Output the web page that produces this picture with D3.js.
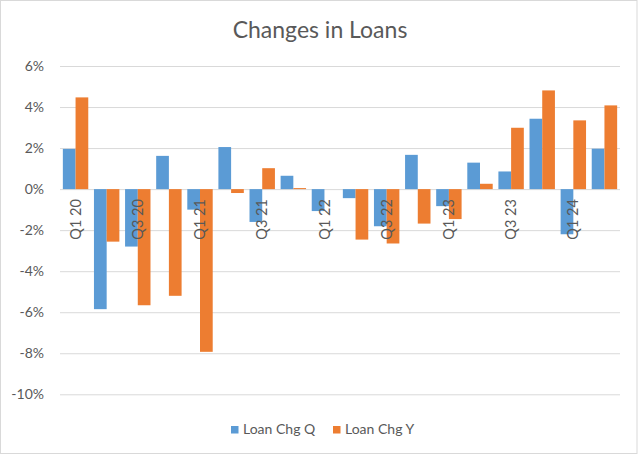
<!DOCTYPE html>
<html>
<head>
<meta charset="utf-8">
<script src="https://cdn.jsdelivr.net/npm/d3@7"></script>
<style>
  html, body { margin: 0; padding: 0; background: #fff; }
  svg { display: block; font-family: Lato, "Open Sans", sans-serif; }
</style>
</head>
<body>
<svg id="chart" width="640" height="455"></svg>
<script>
const categories = ["Q1 20","Q2 20","Q3 20","Q4 20","Q1 21","Q2 21","Q3 21","Q4 21","Q1 22","Q2 22","Q3 22","Q4 22","Q1 23","Q2 23","Q3 23","Q4 23","Q1 24","Q2 24"];
const loanChgQ = [1.96,-5.85,-2.8,1.62,-1.0,2.05,-1.6,0.65,-1.07,-0.44,-1.81,1.67,-0.83,1.29,0.86,3.43,-2.2,1.97];
const loanChgY = [4.47,-2.56,-5.66,-5.2,-7.93,-0.19,1.02,0.05,0.0,-2.46,-2.65,-1.68,-1.46,0.26,2.99,4.81,3.35,4.08];
const seriesNames = ["Loan Chg Q","Loan Chg Y"];
const seriesColors = ["#5B9BD5","#ED7D31"];
const yTicks = [-10,-8,-6,-4,-2,0,2,4,6];
const title = "Changes in Loans";

const svg = d3.select("#chart");
const W = 640, H = 455;
const textColor = "#595959";
const gridColor = "#d9d9d9";

// border
svg.append("rect").attr("x",0.5).attr("y",0.5).attr("width",W-3.5).attr("height",H-2)
  .attr("fill","#fff").attr("stroke","#d9d9d9").attr("stroke-width",1);

const plot = {left:60, right:620, top:66, bottom:394.3};

const y = d3.scaleLinear().domain([-10,6]).range([plot.bottom, plot.top]);
const x0 = d3.scaleBand().domain(categories).range([plot.left, plot.right]).padding(0);
const groupW = x0.bandwidth()*0.817;
const x1 = d3.scaleBand().domain(seriesNames).range([0, groupW]).padding(0);

// title
svg.append("text").attr("x", W/2).attr("y", 37.5).attr("text-anchor","middle")
  .attr("fill", textColor).style("font-size","23px").text(title);

// gridlines
const yAxis = d3.axisLeft(y).tickValues(yTicks).tickSize(-(plot.right-plot.left)).tickFormat(d => d + "%");
const gy = svg.append("g").attr("transform",`translate(${plot.left},0)`).call(yAxis);
gy.select(".domain").remove();
gy.selectAll(".tick line").attr("stroke", gridColor).attr("stroke-width",1);
gy.selectAll(".tick text").attr("x",-16).attr("fill",textColor)
  .style("font-size","14px").style("font-family","Lato, 'Open Sans', sans-serif");

// bars
const data = categories.map((c,i) => ({cat:c, vals:[loanChgQ[i], loanChgY[i]]}));
const groups = svg.append("g").selectAll("g").data(data).join("g")
  .attr("transform", d => `translate(${x0(d.cat) + (x0.bandwidth()-groupW)/2},0)`);
groups.selectAll("rect").data(d => d.vals.map((v,j) => ({name:seriesNames[j], v, j})))
  .join("rect")
  .attr("x", d => x1(d.name))
  .attr("width", x1.bandwidth())
  .attr("y", d => y(Math.max(0,d.v)))
  .attr("height", d => Math.abs(y(d.v) - y(0)))
  .attr("fill", d => seriesColors[d.j]);

// x axis labels
const xAxis = d3.axisBottom(x0).tickValues(categories.filter((c,i) => i % 2 === 0)).tickSize(0);
const gx = svg.append("g").attr("transform",`translate(0,${y(0)})`).call(xAxis);
gx.select(".domain").remove();
gx.selectAll(".tick text")
  .attr("transform","rotate(-90)")
  .attr("x",-10).attr("y",0).attr("dy","0.35em")
  .attr("text-anchor","end")
  .attr("fill",textColor)
  .style("font-size","14.5px").style("font-family","Lato, 'Open Sans', sans-serif");

// legend
const legendItems = [{name:seriesNames[0], color:seriesColors[0], x:231},{name:seriesNames[1], color:seriesColors[1], x:333}];
const lg = svg.append("g").selectAll("g").data(legendItems).join("g")
  .attr("transform", d => `translate(${d.x},426)`);
lg.append("rect").attr("width",7.5).attr("height",7.5).attr("fill", d => d.color);
lg.append("text").attr("x",12).attr("y",7.5).attr("fill",textColor)
  .style("font-size","14px").text(d => d.name);
</script>
</body>
</html>
